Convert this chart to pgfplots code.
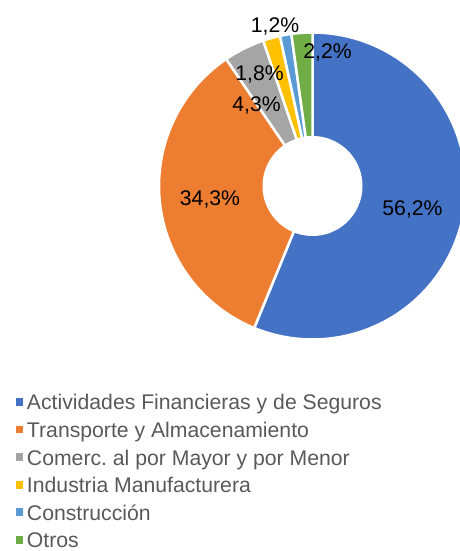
\documentclass[border=0pt]{standalone}
\usepackage{fontspec}
\setmainfont{Liberation Sans}
\usepackage{pgfplots}
\usepackage{pgfplotstable}
\pgfplotsset{compat=1.18}
\frenchspacing
\definecolor{c1}{HTML}{4472C4}
\definecolor{c2}{HTML}{ED7D31}
\definecolor{c3}{HTML}{A5A5A5}
\definecolor{c4}{HTML}{FFC000}
\definecolor{c5}{HTML}{5B9BD5}
\definecolor{c6}{HTML}{70AD47}
\definecolor{legtext}{HTML}{595959}
\pgfplotstableread{
value color
56.2 c1
34.3 c2
4.3 c3
1.8 c4
1.2 c5
2.2 c6
}\piedata
\def\cx{312.5}
\def\cy{-186}
\def\rout{153.5}
\def\rin{50}
\begin{document}
\begin{tikzpicture}[font=\fontsize{21.2bp}{25bp}\selectfont]
\path[use as bounding box] (0,0) rectangle (460bp,551bp);
\begin{axis}[
  at={(0,0)}, anchor=south west,
  scale only axis, width=460bp, height=551bp,
  xmin=0, xmax=460, ymin=-551, ymax=0,
  enlargelimits=false, hide axis, clip=true,
  legend cell align=left,
  legend image code/.code={\fill[#1,draw=none] (0bp,-1.25bp) rectangle (7.5bp,6.5bp);},
  legend style={at={(0.03478,0.28494)}, anchor=north west, draw=none, fill=none,
    inner sep=0pt, outer sep=0pt, row sep=6.6bp, column sep=3.5bp,
    nodes={inner sep=0pt, text height=16bp, text depth=5bp, text=legtext,
      font=\fontsize{21.2bp}{25bp}\selectfont}},
  legend entries={Actividades Financieras y de Seguros, Transporte y Almacenamiento,
    Comerc. al por Mayor y por Menor, Industria Manufacturera, Construcción, Otros},
]
\pgfmathsetmacro{\cum}{0}
\pgfplotsforeachungrouped \i in {0,...,5}{%
  \pgfplotstablegetelem{\i}{value}\of\piedata \let\val\pgfplotsretval
  \pgfplotstablegetelem{\i}{color}\of\piedata \let\col\pgfplotsretval
  \pgfmathsetmacro{\aa}{90-3.6*(\cum+\val)}%
  \pgfmathsetmacro{\ab}{90-3.6*\cum}%
  \edef\doplot{\noexpand\addplot[fill=\col, draw=white, line width=2.5bp,
    domain=\aa:\ab, samples=90, variable=\noexpand\t]
    ({\cx+\rout*cos(\noexpand\t)},{\cy+\rout*sin(\noexpand\t)})
    -- (axis cs:\cx,\cy) -- cycle;}%
  \doplot
  \pgfmathsetmacro{\cum}{\cum+\val}%
}
\addplot[forget plot, fill=white, draw=none, domain=0:360, samples=120]
  ({\cx+\rin*cos(x)},{\cy+\rin*sin(x)}) -- cycle;
\node[anchor=base] at (axis cs:412.5,-215.5) {56,2\%};
\node[anchor=base] at (axis cs:210,-205.5) {34,3\%};
\node[anchor=base] at (axis cs:256.5,-111.5) {4,3\%};
\node[anchor=base] at (axis cs:259.5,-80.5) {1,8\%};
\node[anchor=base] at (axis cs:275,-33) {1,2\%};
\node[anchor=base] at (axis cs:327.5,-59) {2,2\%};
\end{axis}
\end{tikzpicture}
\end{document}
